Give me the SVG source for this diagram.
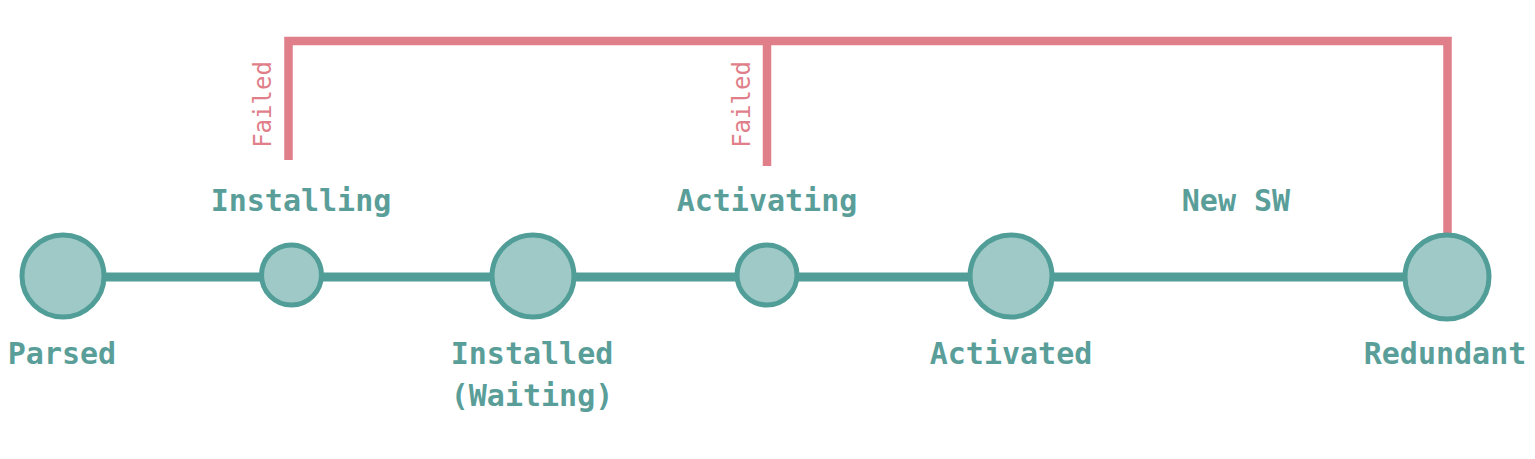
<svg xmlns="http://www.w3.org/2000/svg" width="1535" height="459" viewBox="0 0 1535 459">
<style>
.bg{fill:#ffffff}
.edge{fill:none;stroke:#519e98;stroke-width:9}
.fail{fill:none;stroke:#e07f8a;stroke-width:8.5;stroke-linejoin:miter}
.big{fill:#9fc9c7;stroke:#519e98;stroke-width:5}
.lbl{font-family:"DejaVu Sans Mono","Liberation Mono",monospace;font-weight:bold;font-size:30px;fill:#5a9e99;text-anchor:middle}
.flbl{font-family:"DejaVu Sans Mono","Liberation Mono",monospace;font-size:24px;fill:#e07f8a;text-anchor:middle}
</style>
<rect class="bg" x="0" y="0" width="1535" height="459"/>
<g id="connectors">
<path class="fail" d="M288.5,160 V41 H1447.5 V240 M767,41 V166"/>
<text class="flbl" x="271" y="104.5" transform="rotate(-90 271 104.5)">Failed</text>
<text class="flbl" x="750" y="104.5" transform="rotate(-90 750 104.5)">Failed</text>
<line class="edge" x1="63" y1="277" x2="1447" y2="277"/>
<text class="lbl" x="301" y="211">Installing</text>
<text class="lbl" x="767" y="211">Activating</text>
<text class="lbl" x="1236" y="211">New SW</text>
</g>
<g id="node-parsed">
<circle class="big" cx="63" cy="276" r="41"/>
<text class="lbl" x="62" y="364">Parsed</text>
</g>
<g id="node-installing">
<circle class="big" cx="291.5" cy="275" r="30"/>
</g>
<g id="node-installed">
<circle class="big" cx="533" cy="276" r="41"/>
<text class="lbl" x="532" y="364">Installed</text>
<text class="lbl" x="532" y="406">(Waiting)</text>
</g>
<g id="node-activating">
<circle class="big" cx="767" cy="275" r="30"/>
</g>
<g id="node-activated">
<circle class="big" cx="1011" cy="276" r="41"/>
<text class="lbl" x="1011" y="364">Activated</text>
</g>
<g id="node-redundant">
<circle class="big" cx="1447" cy="277" r="42"/>
<text class="lbl" x="1445" y="364">Redundant</text>
</g>
</svg>
